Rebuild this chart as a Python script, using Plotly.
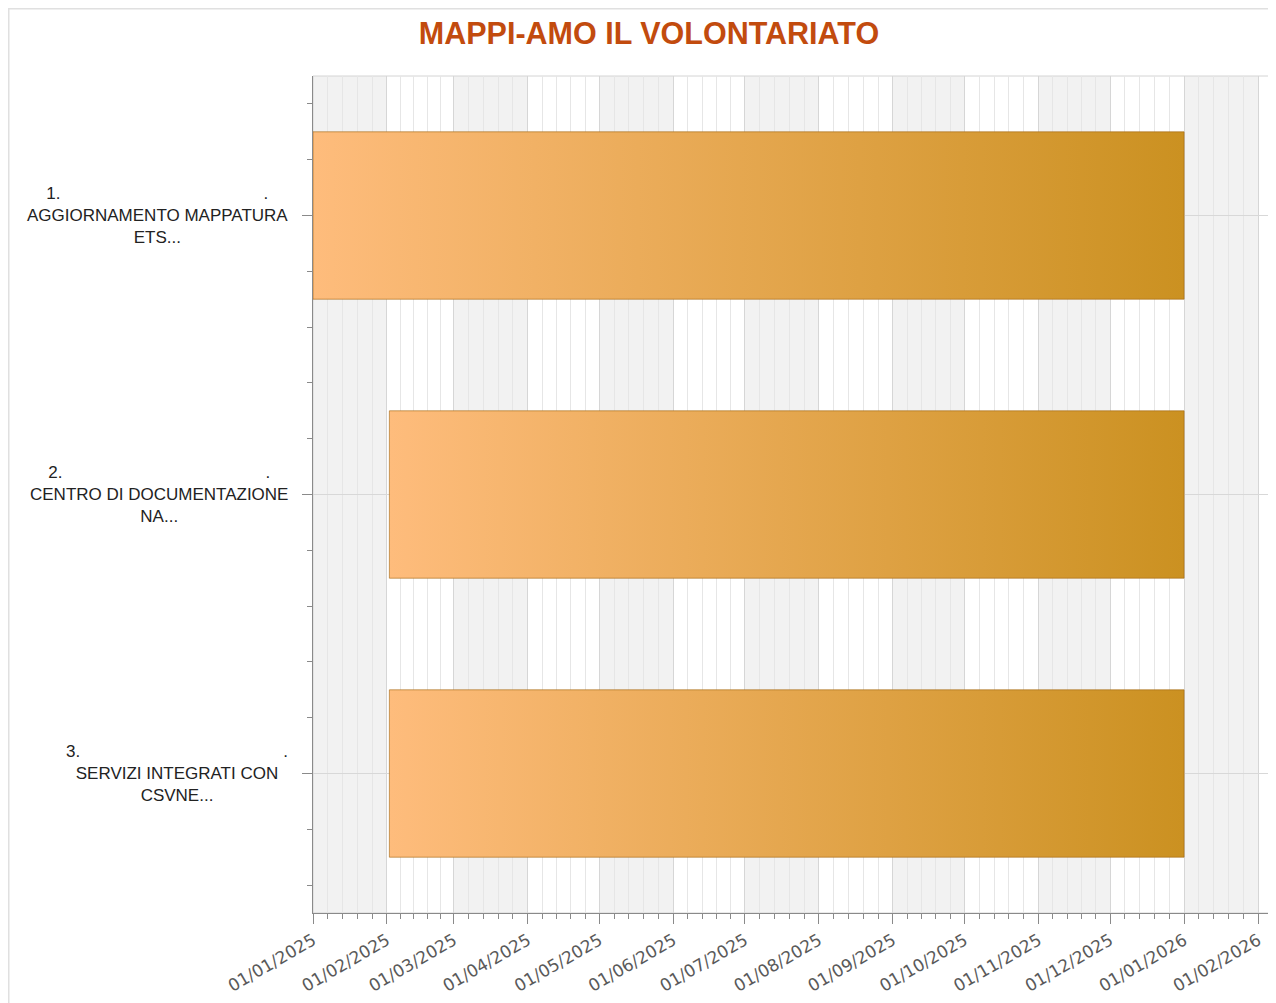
import datetime as dt
import plotly.graph_objects as go

# ---------------- data ----------------
task_numbers = ["1.", "2.", "3."]
task_names = [
    "AGGIORNAMENTO MAPPATURA<br>ETS...",
    "CENTRO DI DOCUMENTAZIONE<br>NA...",
    "SERVIZI INTEGRATI CON<br>CSVNE...",
]
task_starts = ["2025-01-01", "2025-02-02", "2025-02-02"]
task_ends = ["2026-01-01", "2026-01-01", "2026-01-01"]
x_range = ["2025-01-01", "2026-02-06"]
title_text = "MAPPI-AMO IL VOLONTARIATO"

# ---------------- layout constants ----------------
OFF = 8  # page body margin
W, H = 1276 - OFF, 1003 - OFF
ML, MR, MT, MB = 313 - OFF, 6, 76 - OFF, 90
BAR_HALF = 0.3

fig = go.Figure()

# Gantt bars with horizontal gradient
for i, (s, e) in enumerate(zip(task_starts, task_ends)):
    fig.add_trace(go.Scatter(
        x=[s, e, e, s, s],
        y=[i - BAR_HALF, i - BAR_HALF, i + BAR_HALF, i + BAR_HALF, i - BAR_HALF],
        mode="lines",
        fill="toself",
        fillgradient=dict(type="horizontal",
                          colorscale=[[0, "#FEBC7C"], [1, "#CB9121"]]),
        line=dict(color="rgba(160,100,15,0.6)", width=1),
        hoverinfo="skip",
        showlegend=False,
    ))

# month boundaries for bands and minor ticks
def add_month(d):
    return dt.date(d.year + (d.month // 12), d.month % 12 + 1, 1)

months = []
d = dt.date(2025, 1, 1)
while d <= dt.date(2026, 2, 1):
    months.append(d)
    d = add_month(d)

minor_vals = []
for m in months:
    nxt = add_month(m)
    span = (nxt - m).days
    for k in range(1, 5):
        minor_vals.append(dt.datetime.combine(m, dt.time()) + dt.timedelta(days=span * k / 5))

shapes = []
for idx, m in enumerate(months):
    if idx % 2 == 0:
        shapes.append(dict(type="rect", xref="x", yref="paper",
                           x0=m.isoformat(), x1=add_month(m).isoformat(), y0=0, y1=1,
                           fillcolor="#F2F2F2", line=dict(width=0), layer="below"))
# plot frame (top/right light lines)
shapes.append(dict(type="rect", xref="paper", yref="paper", x0=0, x1=1, y0=0, y1=1,
                   line=dict(color="#D4D4D4", width=1), fillcolor="rgba(0,0,0,0)",
                   layer="below"))
# outer chart frame
pw, ph = W - ML - MR, H - MT - MB
shapes.append(dict(type="rect", xref="paper", yref="paper",
                   x0=(0.5 - ML) / pw, x1=(W + 20 - ML) / pw,
                   y0=(H - MB - (H + 20)) / ph, y1=(H - MB - 0.5) / ph,
                   line=dict(color="#E0E0E0", width=2), fillcolor="rgba(0,0,0,0)",
                   layer="below"))

annotations = []
for i, (num, name) in enumerate(zip(task_numbers, task_names)):
    first_line = num + "\u00a0" * 43 + "."
    annotations.append(dict(
        xref="paper", yref="y", x=0, y=i, xanchor="right", yanchor="middle",
        xshift=-23, align="center", showarrow=False,
        text=first_line + "<br>" + name,
        font=dict(family="Liberation Sans, Arial", size=17, color="#222222"),
    ))

fig.update_layout(
    width=W, height=H,
    margin=dict(l=ML, r=MR, t=MT, b=MB),
    paper_bgcolor="white",
    plot_bgcolor="white",
    title=dict(text=title_text, xref="container", yref="container",
               x=(649 - OFF) / W, y=1 - (33 - OFF) / H, xanchor="center", yanchor="middle",
               font=dict(family="Liberation Sans, Arial", size=30.5, color="#C24B0E",
                         weight="bold")),
    shapes=shapes,
    annotations=annotations,
    xaxis=dict(
        type="date", range=x_range,
        tick0="2025-01-01", dtick="M1", tickformat="%d/%m/%Y",
        tickangle=-30, ticks="outside", ticklen=10, tickcolor="#8A8A8A",
        tickfont=dict(family="DejaVu Sans", size=17, color="#5A5A5A"),
        showline=True, linecolor="#8A8A8A", linewidth=1,
        showgrid=True, gridcolor="#D6D6D6", gridwidth=1,
        minor=dict(tickvals=minor_vals, ticks="outside", ticklen=5,
                   tickcolor="#8A8A8A", showgrid=True, gridcolor="#E6E6E6"),
        zeroline=False,
    ),
    yaxis=dict(
        range=[2.5, -0.5], tickvals=[0, 1, 2], showticklabels=False,
        ticks="outside", ticklen=10, tickcolor="#8A8A8A",
        showline=True, linecolor="#8A8A8A", linewidth=1,
        showgrid=True, gridcolor="#D8D8D8",
        minor=dict(tick0=0, dtick=0.2, ticks="outside", ticklen=5,
                   tickcolor="#8A8A8A", showgrid=False),
        zeroline=False,
    ),
)

fig.write_html("out.html")
